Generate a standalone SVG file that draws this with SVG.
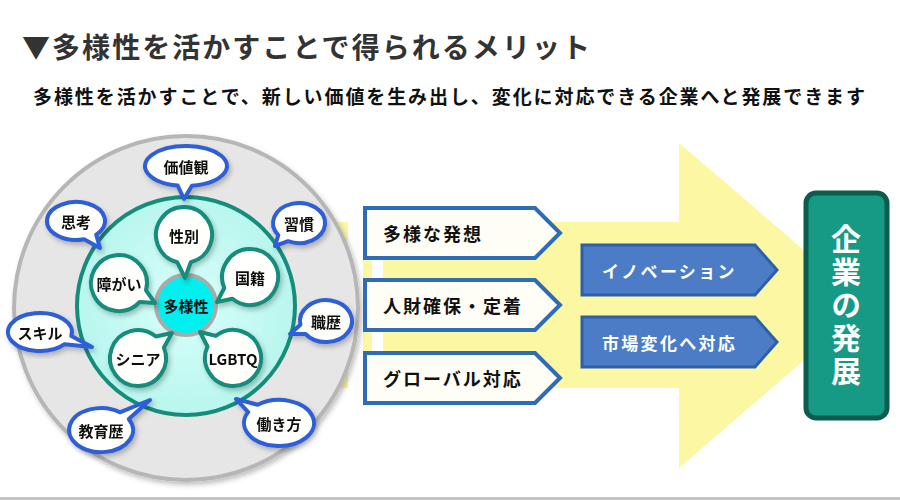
<svg xmlns="http://www.w3.org/2000/svg" width="900" height="500" viewBox="0 0 900 500">
<defs>
<style>
text{font-family:'Noto Sans CJK JP','Noto Sans CJK SC',sans-serif;font-weight:700;}
.ob{fill:#fffffb;stroke:#2f5ed6;stroke-width:4;stroke-linejoin:round;}
.ib{fill:#fffffb;stroke:#168c7b;stroke-width:4;stroke-linejoin:round;}
.bt{font-size:15px;fill:#111;text-anchor:middle;dominant-baseline:central;}
.wp{fill:#fffef6;stroke:#2e6cb5;stroke-width:4;stroke-linejoin:miter;}
.wt{font-size:18px;fill:#111;letter-spacing:2px;dominant-baseline:central;}
.bp{fill:#4b7cc5;stroke:#2d60ab;stroke-width:3;}
.btx{font-size:17px;fill:#fff;letter-spacing:2.3px;dominant-baseline:central;}
.yl{fill:#fcf7a3;}
</style>
<filter id="sh" x="-20%" y="-20%" width="140%" height="140%">
<feDropShadow dx="2" dy="3" stdDeviation="2.5" flood-color="#000" flood-opacity="0.25"/>
</filter>
<radialGradient id="tg" cx="0.5" cy="0.5" r="0.5">
<stop offset="0" stop-color="#d9fffa"/>
<stop offset="1" stop-color="#b8f6ee"/>
</radialGradient>
</defs>
<rect width="900" height="500" fill="#fff"/>
<text x="22" y="58" font-size="28" fill="#333" textLength="568" lengthAdjust="spacing">▼多様性を活かすことで得られるメリット</text>
<text x="33" y="104" font-size="19" fill="#111" textLength="832" lengthAdjust="spacing">多様性を活かすことで、新しい価値を生み出し、変化に対応できる企業へと発展できます</text>
<g id="connectors">
<rect class="yl" x="336" y="222" width="12" height="166"/>
<rect class="yl" x="363" y="222" width="9" height="166"/>
<polygon class="yl" points="383,222 679,222 679,143 868,305 679,468 679,388 383,388"/>
</g>
<g id="outer-circle">
<circle cx="186" cy="308" r="172" fill="#e6e6e6" stroke="#b6b6b6" stroke-width="4" filter="url(#sh)"/>
</g>
<g id="inner-circle">
<circle cx="186" cy="306" r="109" fill="url(#tg)" stroke="#168c7b" stroke-width="4"/>
</g>
<g id="center">
<circle cx="186" cy="305" r="30" fill="#00f0f0" stroke="#aaaaaa" stroke-width="4"/>
<text class="bt" x="186" y="305">多様性</text>
</g>
<g id="seibetsu" filter="url(#sh)">
<path class="ib" d="M177.2,262.2 A28,28 0 1 1 190.8,262.2 L185,278 Z"/>
<text class="bt" x="184" y="235">性別</text>
</g>
<g id="kokuseki" filter="url(#sh)">
<path class="ib" d="M224.3,288 A28,28 0 1 1 232.4,298.8 L217,302 Z"/>
<text class="bt" x="250" y="277">国籍</text>
</g>
<g id="shougai" filter="url(#sh)">
<path class="ib" d="M139.5,302.1 A28,28 0 1 1 146,290.3 L155,303 Z"/>
<text class="bt" x="119" y="283">障がい</text>
</g>
<g id="senior" filter="url(#sh)">
<path class="ib" d="M163.9,347.4 A28,28 0 1 1 155.9,336.5 L172,333 Z"/>
<text class="bt" x="138" y="358">シニア</text>
</g>
<g id="lgbtq" filter="url(#sh)">
<path class="ib" d="M215.8,335.9 A28,28 0 1 1 207.5,346.5 L200,332 Z"/>
<text class="bt" x="233" y="358" font-size="14">LGBTQ</text>
</g>
<g id="kachikan" filter="url(#sh)">
<path class="ob" d="M177.7,185.6 A41,20 0 1 1 191.9,185.8 L184,199 Z"/>
<text class="bt" x="186" y="166">価値観</text>
</g>
<g id="shikou" filter="url(#sh)">
<path class="ob" d="M84.1,239.2 A29,19 0 1 1 96.2,234.6 L100,248 Z"/>
<text class="bt" x="76" y="221">思考</text>
</g>
<g id="shuukan" filter="url(#sh)">
<path class="ob" d="M278.3,235.1 A26,20 0 1 1 288.1,241.2 L275,246 Z"/>
<text class="bt" x="299" y="223">習慣</text>
</g>
<g id="shokureki" filter="url(#sh)">
<path class="ob" d="M300.4,324.7 A26,21 0 1 1 305.5,334 L290,334 Z"/>
<text class="bt" x="326" y="321">職歴</text>
</g>
<g id="skill" filter="url(#sh)">
<path class="ob" d="M64.6,344.2 A32,19 0 1 1 71.3,335.9 L92,347 Z"/>
<text class="bt" x="40" y="332">スキル</text>
</g>
<g id="kyouikureki" filter="url(#sh)">
<path class="ob" d="M128.8,419.1 A32,22 0 1 1 119.9,412.3 L150,400 Z"/>
<text class="bt" x="101" y="430">教育歴</text>
</g>
<g id="hatarakikata" filter="url(#sh)">
<path class="ob" d="M257.6,404.8 A35,23 0 1 1 248.2,412.1 L236,399 Z"/>
<text class="bt" x="279" y="423">働き方</text>
</g>
<g id="hassou">
<polygon class="wp" points="365,208 535,208 560,233 535,258 365,258"/>
<text class="wt" x="383" y="233">多様な発想</text>
</g>
<g id="jinzai">
<polygon class="wp" points="365,280 535,280 560,305 535,330 365,330"/>
<text class="wt" x="383" y="305">人財確保・定着</text>
</g>
<g id="global">
<polygon class="wp" points="365,353 535,353 560,378 535,403 365,403"/>
<text class="wt" x="383" y="378">グローバル対応</text>
</g>
<g id="innovation">
<polygon class="bp" points="582,245 755,245 777,270 755,295 582,295"/>
<text class="btx" x="602" y="270">イノベーション</text>
</g>
<g id="market">
<polygon class="bp" points="582,317 755,317 777,342 755,367 582,367"/>
<text class="btx" x="602" y="342">市場変化へ対応</text>
</g>
<g id="growth">
<rect x="806" y="193" width="81" height="225" rx="10" fill="#179a85" stroke="#0b5c4c" stroke-width="5"/>
<text x="846" y="224" font-size="30" fill="#fff" writing-mode="vertical-rl" letter-spacing="3">企業の発展</text>
</g>
<rect x="0" y="497" width="900" height="3" fill="#c4c4c4"/>
</svg>
